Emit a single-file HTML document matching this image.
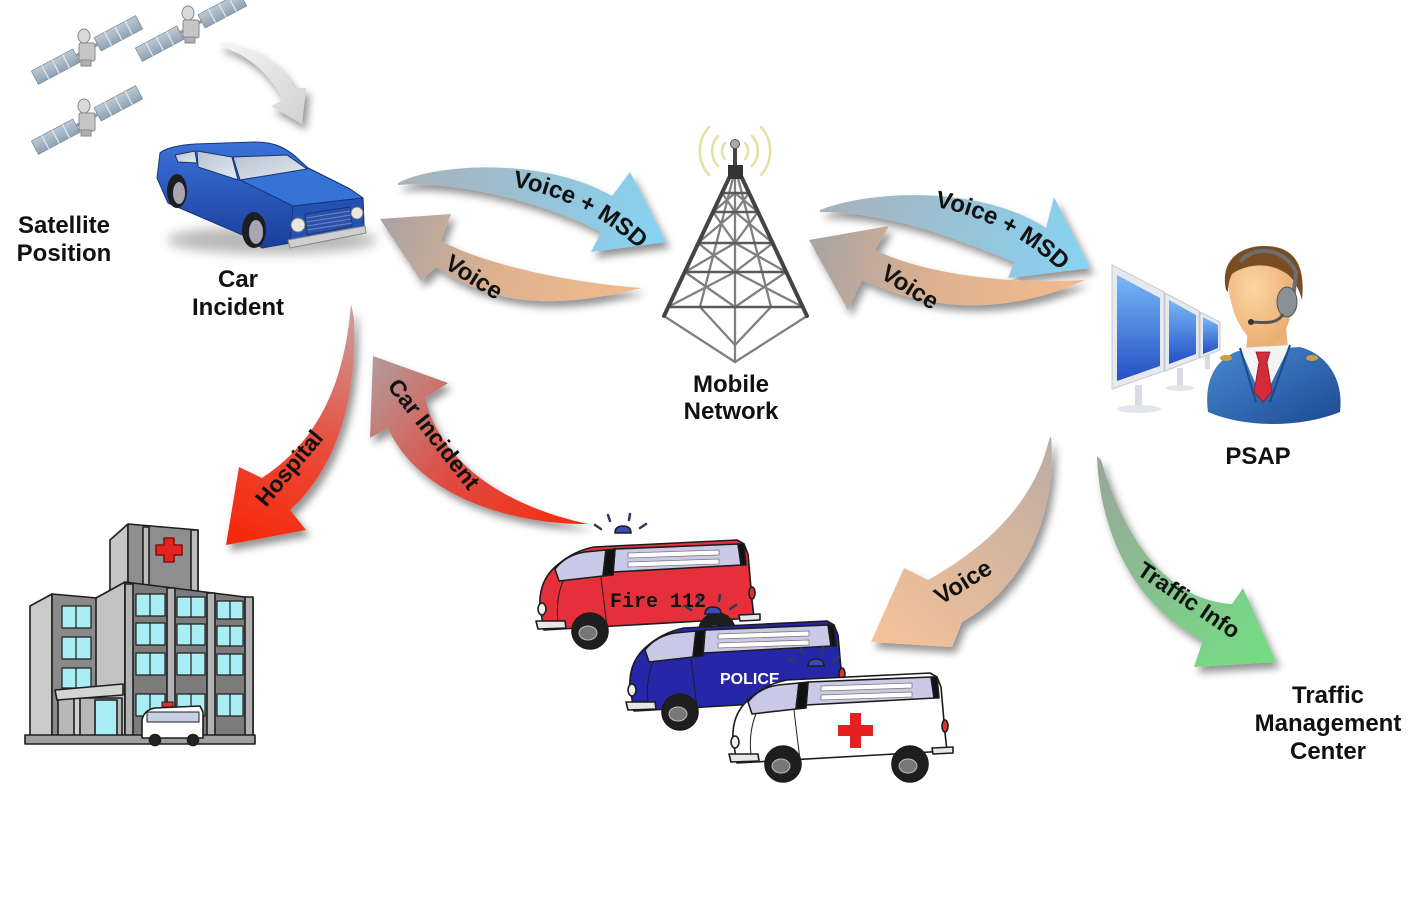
<!DOCTYPE html>
<html><head><meta charset="utf-8">
<style>
html,body{margin:0;padding:0;background:#fff;}
svg{display:block;}
text{font-family:"Liberation Sans",Arial,sans-serif;font-weight:bold;fill:#111;}
</style></head>
<body>
<svg width="1414" height="897" viewBox="0 0 1414 897" xmlns="http://www.w3.org/2000/svg">
<defs>
 <filter id="sh" x="-30%" y="-30%" width="160%" height="160%">
  <feDropShadow dx="4" dy="6" stdDeviation="4" flood-color="#000" flood-opacity="0.42"/>
 </filter>
 <filter id="blur" x="-50%" y="-50%" width="200%" height="200%"><feGaussianBlur stdDeviation="6"/></filter>
 <linearGradient id="gA" gradientUnits="userSpaceOnUse" x1="400" y1="180" x2="660" y2="240"><stop offset="0" stop-color="#a9b1b9"/><stop offset="1" stop-color="#86d3f3"/></linearGradient>
 <linearGradient id="gC" gradientUnits="userSpaceOnUse" x1="820" y1="205" x2="1090" y2="265"><stop offset="0" stop-color="#a9b1b9"/><stop offset="1" stop-color="#86d3f3"/></linearGradient>
 <linearGradient id="gB" gradientUnits="userSpaceOnUse" x1="380" y1="220" x2="640" y2="290"><stop offset="0" stop-color="#a8a3a3"/><stop offset="0.5" stop-color="#e0b28e"/><stop offset="1" stop-color="#f2ba8c"/></linearGradient>
 <linearGradient id="gD" gradientUnits="userSpaceOnUse" x1="810" y1="240" x2="1085" y2="285"><stop offset="0" stop-color="#a8a3a3"/><stop offset="0.5" stop-color="#e0b28e"/><stop offset="1" stop-color="#f2ba8c"/></linearGradient>
 <linearGradient id="gE" gradientUnits="userSpaceOnUse" x1="351" y1="304" x2="240" y2="545"><stop offset="0" stop-color="#c7a3a3"/><stop offset="0.55" stop-color="#ea4a38"/><stop offset="1" stop-color="#f6280a"/></linearGradient>
 <linearGradient id="gF" gradientUnits="userSpaceOnUse" x1="373" y1="357" x2="588" y2="524"><stop offset="0" stop-color="#b39b9b"/><stop offset="0.5" stop-color="#e04a40"/><stop offset="1" stop-color="#f52c0c"/></linearGradient>
 <linearGradient id="gG" gradientUnits="userSpaceOnUse" x1="1051" y1="436" x2="871" y2="642"><stop offset="0" stop-color="#bcaca2"/><stop offset="1" stop-color="#f6c299"/></linearGradient>
 <linearGradient id="gH" gradientUnits="userSpaceOnUse" x1="1097" y1="456" x2="1275" y2="662"><stop offset="0" stop-color="#9aa59a"/><stop offset="1" stop-color="#72de82"/></linearGradient>
 <linearGradient id="gI" gradientUnits="userSpaceOnUse" x1="220" y1="42" x2="300" y2="124"><stop offset="0" stop-color="#f6f6f6"/><stop offset="1" stop-color="#d2d2d2"/></linearGradient>
 <linearGradient id="pan" x1="0" y1="0" x2="0" y2="1"><stop offset="0" stop-color="#bccad6"/><stop offset="1" stop-color="#8fa2b3"/></linearGradient>
 <linearGradient id="carB" x1="0" y1="0" x2="0" y2="1"><stop offset="0" stop-color="#3b72d8"/><stop offset="1" stop-color="#1a3d9c"/></linearGradient>
 <linearGradient id="carW" x1="0" y1="0" x2="1" y2="1"><stop offset="0" stop-color="#b8c4d2"/><stop offset="1" stop-color="#e2e8ee"/></linearGradient>
 <linearGradient id="scr" x1="0" y1="0" x2="0" y2="1"><stop offset="0" stop-color="#78b8f6"/><stop offset="1" stop-color="#2450c4"/></linearGradient>
 <linearGradient id="suit" x1="0" y1="0" x2="1" y2="1"><stop offset="0" stop-color="#4a8ad0"/><stop offset="1" stop-color="#1b4a92"/></linearGradient>
 <radialGradient id="skin" cx="0.4" cy="0.4" r="0.7"><stop offset="0" stop-color="#fcd6a4"/><stop offset="1" stop-color="#e9aa6c"/></radialGradient>

 <g id="sat">
  <g transform="rotate(-28)">
   <rect x="-59" y="-7.5" width="47" height="15" fill="url(#pan)" stroke="#7f8e9c" stroke-width="0.8"/>
   <rect x="12" y="-7.5" width="47" height="15" fill="url(#pan)" stroke="#7f8e9c" stroke-width="0.8"/>
   <path d="M-47.25,-7.5v15M-35.5,-7.5v15M-23.75,-7.5v15M23.75,-7.5v15M35.5,-7.5v15M47.25,-7.5v15" stroke="#dfe6ec" stroke-width="1.3"/>
   <rect x="-12" y="-1.5" width="24" height="3" fill="#999"/>
  </g>
  <rect x="-8" y="-7" width="16" height="18" rx="2" fill="#c6c6c6" stroke="#888"/>
  <rect x="-6" y="10" width="10" height="6" fill="#b0b0b0" stroke="#888"/>
  <ellipse cx="-3" cy="-14" rx="6" ry="7" fill="#dadada" stroke="#888"/>
 </g>

 <g id="van" stroke="#1c1c1c" stroke-width="1.6" stroke-linejoin="round">
  <path d="M80,-2 Q80,-9 88,-9 Q96,-9 96,-2 Z" fill="#3a4ab8"/>
  <path d="M66,-6 l-6,-4 M75,-14 l-2,-6 M94,-15 l1,-6 M105,-7 l6,-4" stroke="#33385a" stroke-width="2.5" stroke-linecap="round" fill="none"/>
  <path d="M9,95 L5,72 C4,56 9,42 20,32 C31,22 43,15 59,12 L202,5 L209,9 L213,19 L217,65 L219,83 L9,95 Z" fill="currentColor"/>
  <path d="M20,34 C27,25 37,19 50,17 L71,15 L68,41 L24,46 Z" fill="#cacae8"/>
  <path d="M80,14 L204,9 L207,30 L78,37 Z" fill="#cacae8"/>
  <path d="M71,15 L80,14 L78,40 L68,41 Z" fill="#111"/>
  <path d="M203,9 L209,9 L211,30 L206,30 Z" fill="#111"/>
  <path d="M93,18 L184,15 L184,20 L93,23 Z" fill="#fff" stroke="#777" stroke-width="0.8"/>
  <path d="M93,27 L184,24 L184,29 L93,32 Z" fill="#fff" stroke="#777" stroke-width="0.8"/>
  <path d="M28,46 C22,60 21,78 24,92" fill="none" stroke-width="1"/>
  <path d="M66,42 C68,60 70,75 72,92" fill="none" stroke-width="1"/>
  <path d="M1,86 L30,86 L31,93 L3,94 Z" fill="#e8e8e8"/>
  <ellipse cx="7" cy="74" rx="4" ry="6" fill="#eee"/>
  <path d="M204,80 L225,79 L225,85 L205,86 Z" fill="#e8e8e8"/>
  <ellipse cx="217" cy="58" rx="3" ry="6" fill="#d33"/>
  <circle cx="55" cy="96" r="18" fill="#1e1e1e"/>
  <ellipse cx="53" cy="98" rx="9" ry="7" fill="#777" stroke="#bbb" stroke-width="1"/>
  <circle cx="182" cy="96" r="18" fill="#1e1e1e"/>
  <ellipse cx="180" cy="98" rx="9" ry="7" fill="#777" stroke="#bbb" stroke-width="1"/>
 </g>
</defs>

<rect width="1414" height="897" fill="#fff"/>

<!-- satellites -->
<use href="#sat" transform="translate(87,50)"/>
<use href="#sat" transform="translate(191,27)"/>
<use href="#sat" transform="translate(87,120)"/>

<!-- arrows -->
<g filter="url(#sh)">
 <path d="M220,42 C250,45 280,60 294,88 L306,88 L302,124 L271,106 L283,100 C270,75 250,55 220,46 Z" fill="url(#gI)"/>
 <path d="M398,183 C430,165 540,155 612,196 L630,172 L666,242 L591,252 L601,232 C550,205 460,180 398,185 Z" fill="url(#gA)"/>
 <path d="M380,219 L451,214 L441,241 C480,262 560,282 642,288 C590,300 510,318 436,267 L421,281 Z" fill="url(#gB)"/>
 <path d="M820,210 C870,190 980,185 1046,228 L1054,197 L1090,268 L1008,278 L1014,262 C960,240 890,212 820,212 Z" fill="url(#gC)"/>
 <path d="M809,240 L889,226 L875,250 C920,272 1000,285 1085,280 C1040,300 960,325 862,280 L848,310 Z" fill="url(#gD)"/>
 <path d="M351,304 C345,380 320,440 262,478 L239,467 L226,545 L306,530 L290,510 C335,470 358,400 354,318 Z" fill="url(#gE)"/>
 <path d="M373,356 L448,383 L425,398 C440,460 500,505 588,524 C520,525 420,500 388,428 L370,438 Z" fill="url(#gF)"/>
 <path d="M1051,436 C1058,520 1020,590 962,622 L952,647 L871,642 L904,568 L928,580 C990,545 1035,500 1049,440 Z" fill="url(#gG)"/>
 <path d="M1097,456 C1100,540 1140,610 1203,640 L1194,667 L1276,662 L1243,588 L1232,604 C1175,600 1130,555 1101,460 Z" fill="url(#gH)"/>
</g>

<!-- arrow labels -->
<path id="tA" d="M500,185 Q585,195 648,258" fill="none"/>
<path id="tC" d="M922,205 Q1005,215 1070,280" fill="none"/>
<text font-size="24"><textPath href="#tA" startOffset="50%" text-anchor="middle">Voice + MSD</textPath></text>
<text font-size="24"><textPath href="#tC" startOffset="50%" text-anchor="middle">Voice + MSD</textPath></text>
<text font-size="24" text-anchor="middle" transform="translate(474,277) rotate(32)" dy="8">Voice</text>
<text font-size="24" text-anchor="middle" transform="translate(910,287) rotate(32)" dy="8">Voice</text>
<text font-size="23" text-anchor="middle" transform="translate(289,468) rotate(-50)" dy="8">Hospital</text>
<text font-size="23" text-anchor="middle" transform="translate(434,434) rotate(52)" dy="8">Car Incident</text>
<text font-size="24" text-anchor="middle" transform="translate(963,582) rotate(-32)" dy="8">Voice</text>
<text font-size="23" text-anchor="middle" transform="translate(1189,600) rotate(34)" dy="8">Traffic Info</text>

<!-- car -->
<ellipse cx="272" cy="240" rx="105" ry="14" fill="#000" opacity="0.28" filter="url(#blur)"/>
<g stroke="#163478" stroke-width="1" stroke-linejoin="round">
 <path d="M160,153 C165,148 180,145 195,144 L255,142 C275,142 285,148 295,156 L308,168 L350,189 L363,198 L364,226 L290,243 L262,248 L245,236 L168,203 L157,178 Z" fill="url(#carB)"/>
 <path d="M240,180 L308,168 L350,189 L363,198 L293,206 Z" fill="#3673d6"/>
 <path d="M293,206 L363,198 L364,226 L290,242 Z" fill="#2352b4"/>
 <path d="M175,155 L195,151 L197,163 L178,162 Z" fill="url(#carW)"/>
 <path d="M197,151 L232,157 L238,180 L198,167 Z" fill="url(#carW)"/>
 <path d="M233,157 L287,155 L307,169 L240,180 Z" fill="url(#carW)"/>
 <path d="M305,214 L350,207 L352,226 L307,235 Z" fill="#2c52a8"/>
 <path d="M306,218 L350,211 M306,222 L351,215 M307,226 L351,219 M307,230 L352,223" stroke="#6a86c8" stroke-width="1"/>
 <circle cx="298" cy="225" r="7" fill="#e8e8e0" stroke="#777"/>
 <circle cx="357" cy="213" r="6" fill="#e8e8e0" stroke="#777"/>
 <path d="M288,240 L365,226 L366,233 L290,248 Z" fill="#cfcfcf" stroke="#888"/>
 <ellipse cx="177" cy="191" rx="10" ry="17" fill="#1d1d24" stroke="none"/>
 <ellipse cx="179" cy="193" rx="6" ry="11" fill="#a8a8b4" stroke="none"/>
 <ellipse cx="254" cy="230" rx="12" ry="18" fill="#1d1d24" stroke="none"/>
 <ellipse cx="256" cy="232" rx="7" ry="12" fill="#a8a8b4" stroke="none"/>
</g>

<!-- tower -->
<g fill="none" stroke-linecap="round">
 <g stroke="#e2e2a0" stroke-width="2.5">
  <path d="M725,143 A12,12 0 0 0 725,159"/><path d="M745,143 A12,12 0 0 1 745,159"/>
  <path d="M718,136 A22,22 0 0 0 718,166"/><path d="M752,136 A22,22 0 0 1 752,166"/>
  <path d="M709,127 A36,36 0 0 0 709,175"/><path d="M761,127 A36,36 0 0 1 761,175"/>
 </g>
 <g stroke="#808080" stroke-width="2.3">
  <line x1="735" y1="178" x2="735" y2="362"/>
  <line x1="733" y1="178" x2="700" y2="307"/>
  <line x1="738" y1="178" x2="771" y2="307"/>
  <line x1="664" y1="316" x2="735" y2="362"/>
  <line x1="807" y1="316" x2="735" y2="362"/>
  <line x1="700" y1="307" x2="735" y2="345"/>
  <line x1="771" y1="307" x2="735" y2="345"/>
  <path d="M722,193L735,212M735,193L713,212M749,193L735,212M735,193L758,212"/>
  <path d="M713,212L735,243M735,212L698,243M758,212L735,243M735,212L773,243"/>
  <path d="M698,243L735,272M735,243L685,272M773,243L735,272M735,243L786,272"/>
  <path d="M685,272L735,307M735,272L668,307M786,272L735,307M735,272L803,307"/>
 </g>
 <g stroke="#5a5a5a" stroke-width="2.6">
  <line x1="722" y1="193" x2="749" y2="193"/>
  <line x1="713" y1="212" x2="758" y2="212"/>
  <line x1="698" y1="243" x2="773" y2="243"/>
  <line x1="685" y1="272" x2="786" y2="272"/>
  <line x1="668" y1="307" x2="803" y2="307"/>
 </g>
 <g stroke="#444" stroke-width="4">
  <line x1="729" y1="178" x2="664" y2="316"/>
  <line x1="742" y1="178" x2="807" y2="316"/>
 </g>
</g>
<rect x="733" y="147" width="4" height="20" fill="#444"/>
<circle cx="735" cy="144" r="4.5" fill="#aaa" stroke="#555"/>
<rect x="728" y="165" width="15" height="14" fill="#333"/>

<!-- hospital -->
<g stroke="#1e1e1e" stroke-width="1.6" stroke-linejoin="round">
 <polygon points="110,540 128,524 128,592 110,592" fill="#c6c6c6"/>
 <polygon points="128,524 198,530 198,592 128,592" fill="#8e8e8e"/>
 <rect x="143" y="527" width="6" height="65" fill="#bdbdbd"/>
 <rect x="191" y="530" width="7" height="62" fill="#bdbdbd"/>
 <path d="M164,538 h10 v7 h8 v10 h-8 v7 h-10 v-7 h-8 v-10 h8 z" fill="#e42222" stroke="#8a1010"/>
 <polygon points="30,606 52,594 52,738 30,738" fill="#cacaca"/>
 <polygon points="52,594 97,598 97,738 52,738" fill="#8a8a8a"/>
 <polygon points="96,598 125,582 125,740 96,740" fill="#c2c2c2"/>
 <polygon points="125,582 253,598 253,740 125,740" fill="#7c7c7c"/>
 <rect x="125" y="584" width="8" height="156" fill="#b2b2b2"/>
 <rect x="167" y="588" width="8" height="152" fill="#b2b2b2"/>
 <rect x="207" y="593" width="8" height="147" fill="#b2b2b2"/>
 <rect x="245" y="597" width="8" height="143" fill="#b2b2b2"/>
 <g fill="#aaeef5" stroke-width="1.2">
  <rect x="136" y="594" width="29" height="22"/><rect x="177" y="597" width="28" height="20"/><rect x="217" y="601" width="26" height="18"/>
  <rect x="136" y="623" width="29" height="22"/><rect x="177" y="624" width="28" height="21"/><rect x="217" y="626" width="26" height="20"/>
  <rect x="136" y="653" width="29" height="22"/><rect x="177" y="653" width="28" height="22"/><rect x="217" y="654" width="26" height="21"/>
  <rect x="136" y="694" width="29" height="22"/><rect x="177" y="694" width="28" height="22"/><rect x="217" y="694" width="26" height="22"/>
  <rect x="62" y="606" width="29" height="22"/><rect x="62" y="637" width="29" height="22"/><rect x="62" y="668" width="29" height="20"/>
 </g>
 <path d="M150,594v22M191,597v20M230,601v18M150,623v22M191,624v21M230,626v20M150,653v22M191,653v22M230,654v21M150,694v22M191,694v22M230,694v22M76,606v22M76,637v22M76,668v20" fill="none" stroke-width="1.2"/>
 <rect x="58" y="698" width="64" height="38" fill="#b8b8b8"/>
 <rect x="95" y="700" width="22" height="36" fill="#aaeef5"/>
 <rect x="74" y="698" width="6" height="38" fill="#d0d0d0"/>
 <polygon points="55,690 123,684 123,695 57,700" fill="#d4d4d4"/>
 <polygon points="25,735 255,735 255,744 25,744" fill="#a0a0a0"/>
 <path d="M142,738 L142,720 Q144,710 155,708 L200,706 L203,712 L203,738 Z" fill="#fff"/>
 <rect x="147" y="712" width="52" height="10" fill="#c8d0e8" stroke-width="1"/>
 <rect x="162" y="702" width="11" height="5" fill="#e03030" stroke-width="1"/>
 <circle cx="155" cy="740" r="5.5" fill="#222"/>
 <circle cx="193" cy="740" r="5.5" fill="#222"/>
</g>

<!-- vans -->
<use href="#van" transform="translate(535,535)" style="color:#e5303c"/>
<text x="610" y="607" font-size="20" style="font-family:'Liberation Mono',monospace">Fire 112</text>
<use href="#van" transform="translate(625,616)" style="color:#2626a8"/>
<text x="720" y="684" font-size="16" style="fill:#fff">POLICE</text>
<use href="#van" transform="translate(728,668)" style="color:#ffffff"/>
<path d="M850,713 h11 v12 h12 v11 h-12 v12 h-11 v-12 h-12 v-11 h12 z" fill="#e42020"/>

<!-- PSAP -->
<g>
 <rect x="1135" y="385" width="7" height="22" fill="#d8dce0"/>
 <ellipse cx="1139" cy="409" rx="22" ry="4" fill="#e2e6ea"/>
 <rect x="1177" y="368" width="6" height="18" fill="#d8dce0"/>
 <ellipse cx="1180" cy="388" rx="14" ry="3" fill="#e2e6ea"/>
 <rect x="1205" y="355" width="5" height="14" fill="#d8dce0"/>
 <polygon points="1112,265 1164,292 1164,371 1112,389" fill="#e6eaee" stroke="#c4cad0"/>
 <polygon points="1117,275 1160,298 1160,366 1117,381" fill="url(#scr)"/>
 <polygon points="1165,293 1199,311 1199,358 1165,371" fill="#e6eaee" stroke="#c4cad0"/>
 <polygon points="1169,300 1196,315 1196,354 1169,364" fill="url(#scr)"/>
 <polygon points="1200,312 1220,322 1220,350 1200,358" fill="#e6eaee" stroke="#c4cad0"/>
 <polygon points="1203,317 1218,325 1218,348 1203,354" fill="url(#scr)"/>
 <path d="M1208,412 C1204,382 1214,360 1238,351 L1300,347 C1326,354 1344,378 1340,412 C1300,428 1245,428 1208,412 Z" fill="url(#suit)"/>
 <path d="M1248,328 L1286,326 L1288,348 L1246,350 Z" fill="#e8b47c"/>
 <path d="M1240,348 L1290,345 L1266,394 L1260,394 Z" fill="#f4f4f4"/>
 <path d="M1256,352 L1270,352 L1267,362 L1272,392 L1263,402 L1254,392 L1259,362 Z" fill="#d42a3a" stroke="#901822" stroke-width="0.8"/>
 <path d="M1240,348 L1256,402 M1290,345 L1270,402" stroke="#1a4a8c" stroke-width="2" fill="none"/>
 <ellipse cx="1226" cy="358" rx="6" ry="3" fill="#c8a040"/>
 <ellipse cx="1312" cy="358" rx="6" ry="3" fill="#c8a040"/>
 <path d="M1228,282 C1226,258 1245,250 1262,250 C1285,251 1296,270 1293,300 C1291,325 1282,343 1266,345 C1248,345 1231,320 1228,282 Z" fill="url(#skin)"/>
 <path d="M1226,290 C1220,262 1238,247 1262,246 C1292,245 1306,262 1302,300 C1298,286 1292,276 1284,272 C1268,262 1246,264 1232,274 C1229,280 1228,286 1228,292 Z" fill="#7a4c22"/>
 <path d="M1240,262 C1252,246 1284,246 1296,272 L1293,300" fill="none" stroke="#6b6f74" stroke-width="4"/>
 <ellipse cx="1287" cy="302" rx="10" ry="15" fill="#8a8f96" stroke="#555"/>
 <path d="M1283,314 C1278,324 1264,323 1252,322" fill="none" stroke="#555" stroke-width="3"/>
 <circle cx="1251" cy="322" r="3" fill="#333"/>
</g>

<!-- node labels -->
<g font-size="24" text-anchor="middle">
 <text x="64" y="233">Satellite</text>
 <text x="64" y="261">Position</text>
 <text x="238" y="287">Car</text>
 <text x="238" y="315">Incident</text>
 <text x="731" y="392">Mobile</text>
 <text x="731" y="419">Network</text>
 <text x="1258" y="464">PSAP</text>
 <text x="1328" y="703">Traffic</text>
 <text x="1328" y="731">Management</text>
 <text x="1328" y="759">Center</text>
</g>
</svg>
</body></html>
